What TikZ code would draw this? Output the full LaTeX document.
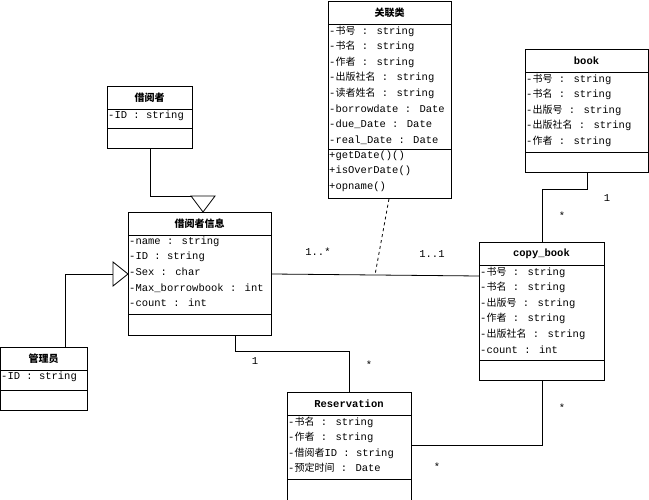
\documentclass[tikz,border=0pt]{standalone}
\usepackage{fontspec}
\setmainfont{Liberation Mono}
\newfontfamily\cjk{Noto Sans CJK SC}
\newcommand{\C}[1]{{\cjk\fontsize{10}{15.6}\selectfont #1}}
\begin{document}
\begin{tikzpicture}[x=1pt,y=-1pt,
  box/.style={draw,thick,anchor=north west,inner sep=0pt},
  ttl/.style={font=\fontsize{10.5}{12}\selectfont\bfseries},
  attrs/.style={anchor=north west,align=left,inner sep=1pt,font=\fontsize{10.5}{15.6}\selectfont},
  lbl/.style={font=\fontsize{10.5}{12}\selectfont},
  con/.style={thick},
  gen/.style={thick,fill=white}]
\useasboundingbox (0,0) rectangle (649,500);
% class macro: name, x1,y1,x2,y2, title sep y, attr sep y
\newcommand{\ucls}[9]{%
  \node[box,minimum width={#4-#2},minimum height={#5-#3}] (#1) at (#2,#3) {};
  \draw[thick] (#2,#6) -- (#4,#6) (#2,#7) -- (#4,#7);
  \node[ttl] (#1t) at ({(#2+#4)/2},{(#3+#6)/2}) {#8};
  \node[attrs] (#1a) at (#2,#6+0.5) {#9};}
\ucls{jyz}{107}{86}{192}{148}{109}{128}{\C{借阅者}}{-ID : string}
\ucls{jyx}{128}{212}{271}{335}{235}{314}{\C{借阅者信息}}{-name : string\\-ID : string\\-Sex : char\\-Max\_borrowbook : int\\-count : int}
\ucls{gly}{0}{347}{87}{410}{370}{390}{\C{管理员}}{-ID : string}
\ucls{gll}{328}{1}{451}{198}{24}{149}{\C{关联类}}{-\C{书号} : string\\-\C{书名} : string\\-\C{作者} : string\\-\C{出版社名} : string\\-\C{读者姓名} : string\\-borrowdate : Date\\-due\_Date : Date\\-real\_Date : Date}
\node[attrs] (gllm) at (328,149.5) {+getDate()()\\+isOverDate()\\+opname()};
\ucls{book}{525}{49}{648}{172}{72}{152}{book}{-\C{书号} : string\\-\C{书名} : string\\-\C{出版号} : string\\-\C{出版社名} : string\\-\C{作者} : string}
\ucls{cb}{479}{242}{604}{380}{265}{360}{copy\_book}{-\C{书号} : string\\-\C{书名} : string\\-\C{出版号} : string\\-\C{作者} : string\\-\C{出版社名} : string\\-count : int}
\ucls{res}{287}{392}{411}{500}{415}{479}{Reservation}{-\C{书名} : string\\-\C{作者} : string\\-\C{借阅者}ID : string\\-\C{预定时间} : Date}
% generalizations
\coordinate (g1) at (203,212);
\draw[con] (jyz.south) |- (203,196);
\draw[gen] (g1) -- (191,196) -- (215,196) -- cycle;
\coordinate (g2) at (128,274);
\draw[con] (gly.north -| 65,0) |- (113,274);
\draw[gen] (g2) -- (113,262) -- (113,286) -- cycle;
% association
\coordinate (am) at (375,275);
\draw[con] (jyx.east |- 0,274) -- (cb.west |- 0,276);
\draw[thick,dashed] (gll.south -| 389,0) -- (am);
\node[lbl] (l1) at (318,252) {1..*};
\node[lbl] (l2) at (432,254) {1..1};
\draw[con] (jyx.south -| 235,0) |- (349,351) -- (res.north -| 349,0);
\node[lbl] (l3) at (255,361) {1};
\node[lbl] (l4) at (369,365) {*};
\draw[con] (res.east |- 0,445) -| (cb.south -| 542,0);
\node[lbl] (l5) at (562,408) {*};
\node[lbl] (l6) at (437,467) {*};
\draw[con] (book.south -| 587,0) |- (542,189) -- (cb.north -| 542,0);
\node[lbl] (l7) at (607,198) {1};
\node[lbl] (l8) at (562,216) {*};
\end{tikzpicture}
\end{document}
